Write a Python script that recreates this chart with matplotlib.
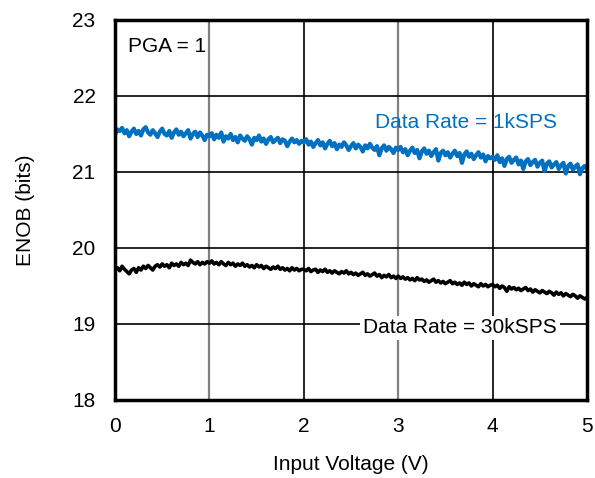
import numpy as np
import matplotlib
matplotlib.use("Agg")
import matplotlib.pyplot as plt

plt.rcParams['font.family'] = ['Liberation Sans', 'DejaVu Sans']

# Input voltage sweep (V), 25 mV steps
voltage = np.linspace(0.0, 5.0, 201)

# ENOB at 1 kSPS (bits)
enob_1k = [
    21.49, 21.56, 21.54, 21.58, 21.51, 21.55, 21.47, 21.53, 21.57, 21.50,
    21.54, 21.48, 21.56, 21.59, 21.52, 21.49, 21.55, 21.51, 21.46, 21.53,
    21.57, 21.50, 21.48, 21.54, 21.45, 21.52, 21.56, 21.49, 21.53, 21.47,
    21.51, 21.55, 21.44, 21.50, 21.53, 21.46, 21.52, 21.48, 21.42, 21.49,
    21.47, 21.51, 21.43, 21.49, 21.45, 21.52, 21.40, 21.47, 21.44, 21.50,
    21.42, 21.46, 21.39, 21.48, 21.44, 21.41, 21.47, 21.43, 21.36, 21.45,
    21.42, 21.48, 21.40, 21.44, 21.37, 21.43, 21.46, 21.39, 21.42, 21.45,
    21.38, 21.43, 21.41, 21.34, 21.40, 21.44, 21.39, 21.42, 21.37, 21.41,
    21.39, 21.43, 21.36, 21.40, 21.33, 21.38, 21.42, 21.35, 21.39, 21.31,
    21.37, 21.41, 21.34, 21.38, 21.30, 21.36, 21.33, 21.39, 21.35, 21.29,
    21.34, 21.38, 21.31, 21.36, 21.33, 21.27, 21.35, 21.31, 21.37, 21.32,
    21.29, 21.34, 21.22, 21.31, 21.35, 21.28, 21.33, 21.30, 21.25, 21.32,
    21.29, 21.33, 21.26, 21.30, 21.22, 21.28, 21.32, 21.25, 21.29, 21.18,
    21.27, 21.31, 21.24, 21.28, 21.21, 21.26, 21.30, 21.15, 21.25, 21.28,
    21.22, 21.26, 21.19, 21.24, 21.28, 21.21, 21.25, 21.12, 21.23, 21.27,
    21.20, 21.24, 21.17, 21.22, 21.26, 21.19, 21.23, 21.14, 21.21, 21.18,
    21.20, 21.16, 21.22, 21.13, 21.18, 21.08, 21.17, 21.20, 21.12, 21.16,
    21.19, 21.10, 21.15, 21.04, 21.14, 21.17, 21.09, 21.13, 21.16, 21.07,
    21.12, 21.15, 21.01, 21.11, 21.14, 21.06, 21.10, 21.13, 21.04, 21.09,
    21.12, 20.98, 21.08, 21.11, 21.03, 21.07, 21.10, 20.97, 21.05, 21.08,
    21.03,
]

# ENOB at 30 kSPS (bits)
enob_30k = [
    19.71, 19.74, 19.70, 19.76, 19.72, 19.69, 19.66, 19.71, 19.73, 19.68,
    19.74, 19.71, 19.76, 19.73, 19.77, 19.74, 19.71, 19.76, 19.78, 19.75,
    19.79, 19.76, 19.78, 19.74, 19.80, 19.77, 19.79, 19.76, 19.81, 19.78,
    19.80, 19.77, 19.84, 19.81, 19.79, 19.82, 19.78, 19.81, 19.79, 19.82,
    19.80, 19.83, 19.79, 19.81, 19.78, 19.82, 19.79, 19.77, 19.81, 19.78,
    19.80, 19.76, 19.79, 19.77, 19.80, 19.76, 19.78, 19.75, 19.77, 19.74,
    19.78, 19.75, 19.77, 19.73, 19.76, 19.74, 19.72, 19.75, 19.73, 19.76,
    19.72, 19.74, 19.71, 19.73, 19.70, 19.74, 19.71, 19.73, 19.70, 19.72,
    19.72, 19.70, 19.73, 19.69, 19.71, 19.72, 19.68, 19.71, 19.69, 19.72,
    19.68, 19.70, 19.67, 19.70, 19.68, 19.66, 19.69, 19.67, 19.70, 19.66,
    19.68, 19.65, 19.67, 19.64, 19.66, 19.68, 19.64, 19.66, 19.63, 19.65,
    19.67, 19.63, 19.65, 19.61, 19.64, 19.62, 19.65, 19.61, 19.63, 19.60,
    19.63, 19.60, 19.62, 19.59, 19.61, 19.58, 19.60, 19.57, 19.61, 19.58,
    19.59, 19.56, 19.58, 19.55, 19.57, 19.59, 19.55, 19.57, 19.54, 19.56,
    19.53, 19.55, 19.57, 19.53, 19.55, 19.52, 19.54, 19.51, 19.55, 19.52,
    19.54, 19.50, 19.53, 19.51, 19.49, 19.53, 19.50, 19.52, 19.49, 19.51,
    19.52, 19.49, 19.51, 19.47, 19.50, 19.48, 19.43, 19.49, 19.46, 19.48,
    19.45, 19.47, 19.44, 19.46, 19.48, 19.44, 19.46, 19.42, 19.45, 19.43,
    19.41, 19.44, 19.42, 19.40, 19.43, 19.41, 19.38, 19.42, 19.39, 19.41,
    19.37, 19.40, 19.38, 19.36, 19.39, 19.37, 19.34, 19.37, 19.35, 19.33,
    19.35,
]

x_ticks = [0, 1, 2, 3, 4, 5]
y_ticks = [18, 19, 20, 21, 22, 23]

blue = '#0070C0'
fs = 15

fig = plt.figure(figsize=(5.95, 4.78), dpi=100)
ax = fig.add_axes([0.1933, 0.1632, 0.7933, 0.7950])

ax.set_xlim(0, 5)
ax.set_ylim(18, 23)
ax.set_xticks(x_ticks)
ax.set_yticks(y_ticks)
ax.tick_params(length=0, labelsize=fs, pad=12)
ax.tick_params(axis='y', pad=14)

# Grid: alternating grey / black verticals, black horizontals
for xv in x_ticks[1:-1]:
    c = '#808080' if xv % 2 == 1 else 'black'
    ax.axvline(xv, color=c, lw=1.6 if xv % 2 == 1 else 1.2, zorder=1)
for yv in y_ticks[1:-1]:
    ax.axhline(yv, color='black', lw=1.2, zorder=1)

for s in ax.spines.values():
    s.set_linewidth(2.5)
    s.set_zorder(5)

ax.plot(voltage, enob_1k, color=blue, lw=3.0, zorder=3)
ax.plot(voltage, enob_30k, color='black', lw=2.6, zorder=3)

ax.text(0.14, 22.645, 'PGA = 1', fontsize=fs, ha='left', va='center', zorder=4)
ax.text(4.68, 21.645, 'Data Rate = 1kSPS', fontsize=fs, color=blue,
        ha='right', va='center', zorder=4)
ax.text(4.68, 18.95, 'Data Rate = 30kSPS', fontsize=fs, color='black',
        ha='right', va='center', zorder=4,
        bbox=dict(facecolor='white', edgecolor='none', pad=2))

ax.set_xlabel('Input Voltage (V)', fontsize=fs, labelpad=14)
ax.set_ylabel('ENOB (bits)', fontsize=fs, labelpad=27)

fig.savefig('out.png', dpi=100)
